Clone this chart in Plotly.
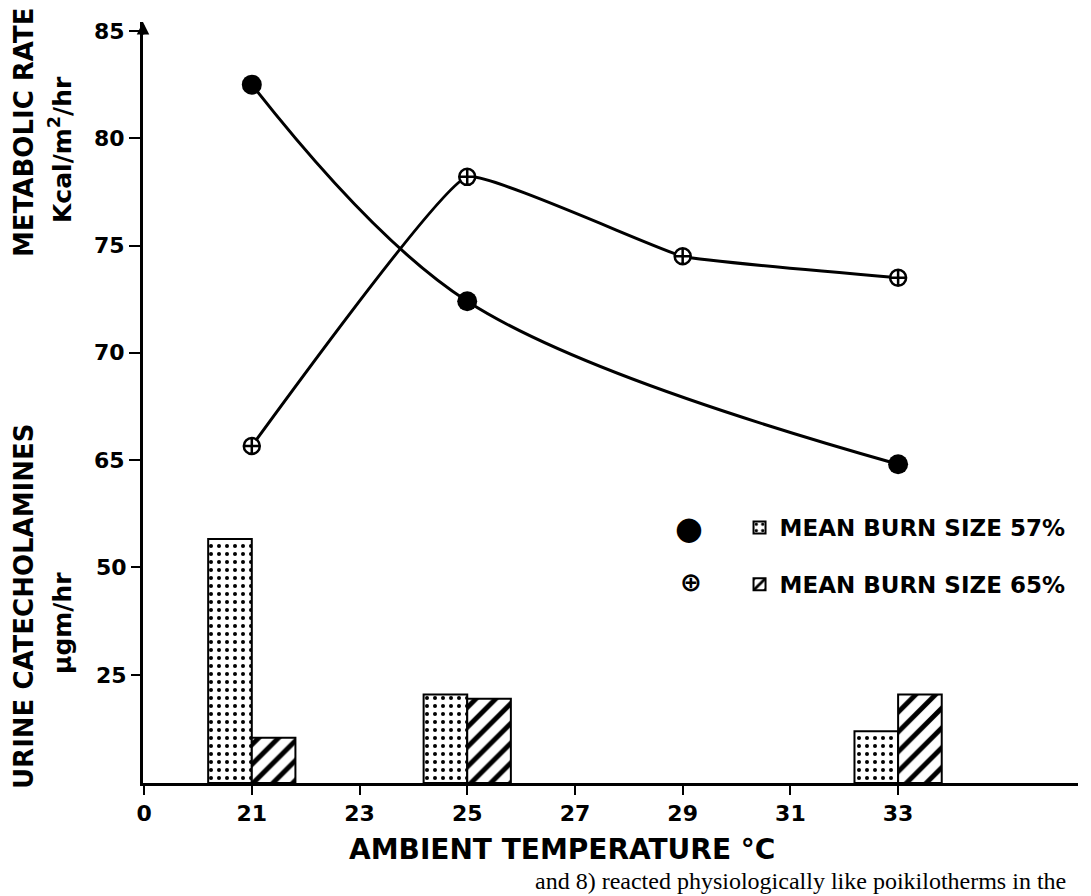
import plotly.graph_objects as go

# ---- data ----
temps_57 = [21, 25, 33]
metab_57 = [82.5, 72.4, 64.8]

temps_65 = [21, 25, 29, 33]
metab_65 = [65.65, 78.2, 74.5, 73.5]

bar_temps = [21, 25, 33]
cat_57 = [56.5, 20.5, 12.0]
cat_65 = [10.5, 19.5, 20.5]

x_tickvals = [19, 21, 23, 25, 27, 29, 31, 33]
x_ticktext = ["0", "21", "23", "25", "27", "29", "31", "33"]
y_metab_ticks = [65, 70, 75, 80, 85]
y_cat_ticks = [25, 50]

legend_57 = "MEAN BURN SIZE 57%"
legend_65 = "MEAN BURN SIZE 65%"

FONT = "DejaVu Sans"
BLACK = "black"

fig = go.Figure()

# bars (urine catecholamines) on y2
fig.add_trace(go.Bar(
    x=bar_temps, y=cat_57, yaxis="y2", name=legend_57,
    width=0.81, offset=-0.81, legendgroup="a",
    marker=dict(color="white", line=dict(color=BLACK, width=2),
                pattern=dict(shape=".", size=8, solidity=0.2,
                             fgcolor=BLACK, bgcolor="white", fillmode="replace")),
))
fig.add_trace(go.Bar(
    x=bar_temps, y=cat_65, yaxis="y2", name=legend_65,
    width=0.81, offset=0, legendgroup="b",
    marker=dict(color="white", line=dict(color=BLACK, width=2),
                pattern=dict(shape="/", size=14, solidity=0.35,
                             fgcolor=BLACK, bgcolor="white", fillmode="replace")),
))

# metabolic rate curves on y
fig.add_trace(go.Scatter(
    x=temps_57, y=metab_57, mode="lines+markers", showlegend=False,
    line=dict(color=BLACK, width=3, shape="spline", smoothing=1.0),
    marker=dict(symbol="circle", size=20, color=BLACK),
    cliponaxis=False,
))
fig.add_trace(go.Scatter(
    x=temps_65, y=metab_65, mode="lines+markers", showlegend=False,
    line=dict(color=BLACK, width=3, shape="spline", smoothing=0.3),
    marker=dict(symbol="circle-cross", size=16, color="white",
                line=dict(color=BLACK, width=2.5)),
    cliponaxis=False,
))

tickfont = dict(family=FONT, size=22, color=BLACK, weight="bold")

# the page body has an 8px margin, so the figure is drawn 8px smaller
fig.update_layout(
    width=1083, height=888,
    margin=dict(l=135, r=13, t=14, b=113),
    paper_bgcolor="white", plot_bgcolor="white",
    barmode="overlay",
    showlegend=True,
    legend=dict(x=0.638, y=0.364, xanchor="left", yanchor="top",
                font=dict(family=FONT, size=23, color=BLACK, weight="bold"),
                tracegroupgap=24, bgcolor="rgba(0,0,0,0)"),
    xaxis=dict(range=[18.98, 36.34], tickvals=x_tickvals, ticktext=x_ticktext,
               showline=True, linecolor=BLACK, linewidth=3,
               ticks="outside", ticklen=9, tickwidth=2, tickcolor=BLACK,
               showgrid=False, zeroline=False, tickfont=tickfont),
    yaxis=dict(range=[49.94, 85.42], tickvals=y_metab_ticks,
               showline=True, linecolor=BLACK, linewidth=3,
               ticks="outside", ticklen=11, tickwidth=2, tickcolor=BLACK,
               showgrid=False, zeroline=False, tickfont=tickfont),
    yaxis2=dict(range=[0, 176.2], tickvals=y_cat_ticks, overlaying="y", side="left",
                showline=False, ticks="outside", ticklen=11, tickwidth=2,
                tickcolor=BLACK, showgrid=False, zeroline=False, tickfont=tickfont),
)

W, H = 935, 761  # plot area size in px
X0, Y0 = 143, 783  # plot-area origin in reference pixels


def px(x):
    return (x - X0) / W


def py(y):
    return (Y0 - y) / H


ann = []
ann.append(dict(text="AMBIENT TEMPERATURE °C", x=px(562), y=py(850), xref="paper", yref="paper",
                xanchor="center", yanchor="middle", showarrow=False,
                font=dict(family=FONT, size=28, color=BLACK, weight="bold")))
ann.append(dict(text="METABOLIC RATE", x=px(24), y=py(133), xref="paper", yref="paper",
                textangle=-90, xanchor="center", yanchor="middle", showarrow=False,
                font=dict(family=FONT, size=26, color=BLACK, weight="bold")))
ann.append(dict(text="Kcal/m<sup>2</sup>/hr", x=px(61), y=py(150), xref="paper", yref="paper",
                textangle=-90, xanchor="center", yanchor="middle", showarrow=False,
                font=dict(family=FONT, size=25, color=BLACK, weight="bold")))
ann.append(dict(text="URINE CATECHOLAMINES", x=px(24), y=py(606), xref="paper", yref="paper",
                textangle=-90, xanchor="center", yanchor="middle", showarrow=False,
                font=dict(family=FONT, size=26, color=BLACK, weight="bold")))
ann.append(dict(text="μgm/hr", x=px(62), y=py(623), xref="paper", yref="paper",
                textangle=-90, xanchor="center", yanchor="middle", showarrow=False,
                font=dict(family=FONT, size=25, color=BLACK, weight="bold")))
# legend line-marker glyphs
ann.append(dict(text="●", x=px(689), y=py(528), xref="paper", yref="paper",
                xanchor="center", yanchor="middle", showarrow=False,
                font=dict(family=FONT, size=32, color=BLACK)))
ann.append(dict(text="⊕", x=px(691), y=py(582), xref="paper", yref="paper",
                xanchor="center", yanchor="middle", showarrow=False,
                font=dict(family=FONT, size=26, color=BLACK, weight="bold")))
# arrow tip at the top of the vertical axis
ann.append(dict(text="", x=0, y=1, xref="paper", yref="paper", showarrow=True,
                ax=0, ay=14, arrowhead=2, arrowsize=1, arrowwidth=2.5, arrowcolor=BLACK))
# running page text below the figure
ann.append(dict(text="and 8) reacted physiologically like poikilotherms in the",
                x=px(533), y=py(881), xref="paper", yref="paper",
                xanchor="left", yanchor="middle", showarrow=False,
                font=dict(family="Liberation Serif", size=24, color=BLACK)))

fig.update_layout(annotations=ann)

fig.write_html("out.html")
